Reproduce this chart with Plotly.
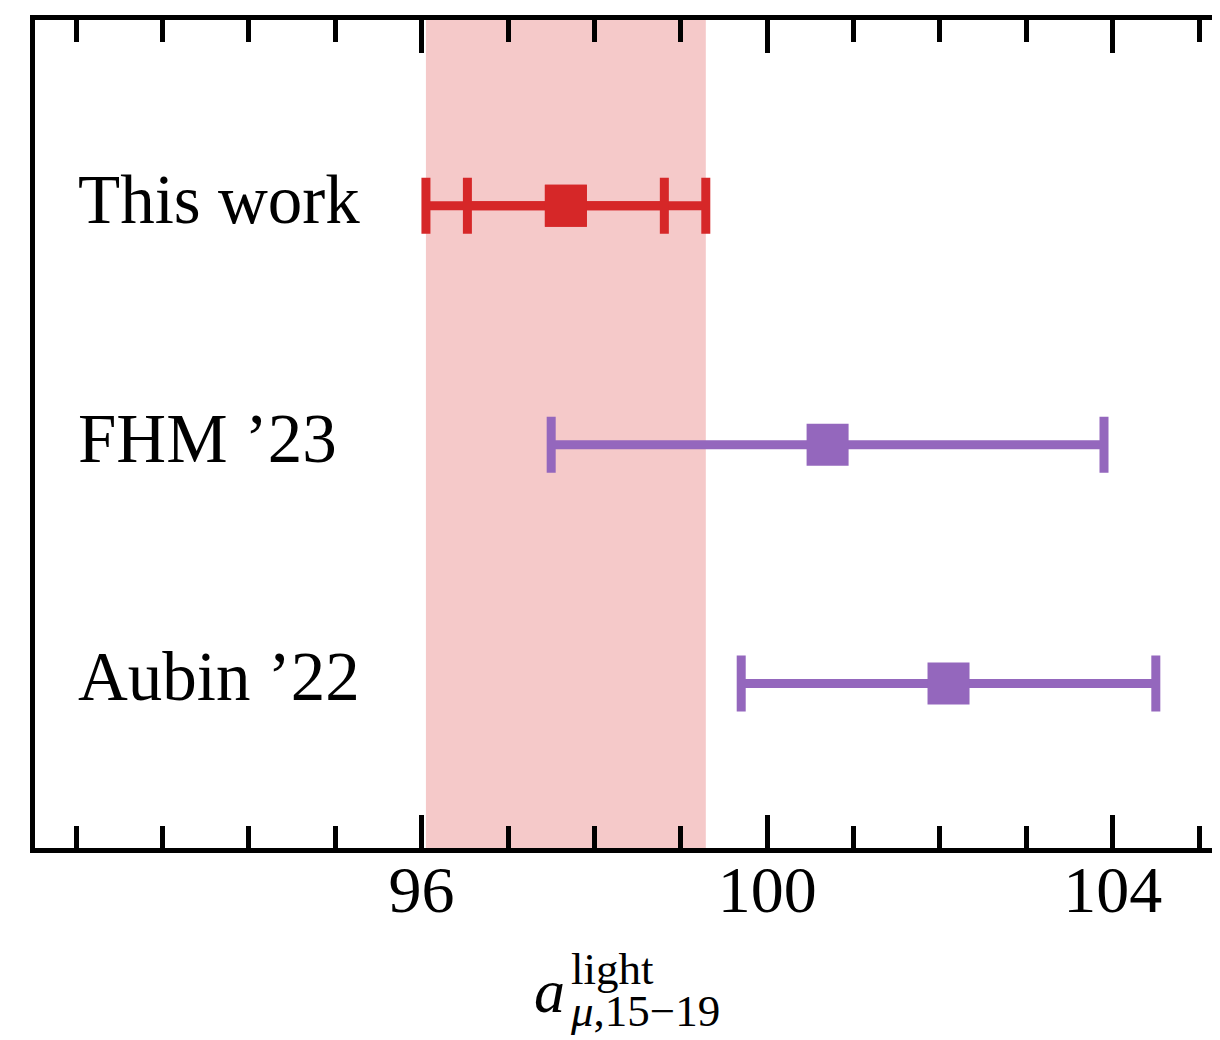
import plotly.graph_objects as go

# ---- data ----
labels = ["This work", "FHM ’23", "Aubin ’22"]
ypos = [3, 2, 1]
values = [97.67, 100.70, 102.10]
err_total = [1.62, 3.20, 2.40]
err_stat = [1.14]            # inner error for "This work"
colors = ["#d62728", "#9467bd", "#9467bd"]
band_lo, band_hi = 96.05, 99.29
xticks = [96, 100, 104]
xrange_ = [91.524, 105.243]
yrange_ = [0.311, 3.778]

# ---- layout constants ----
OFF = 8                      # default page body margin
W, H = 1220, 1040 - OFF
ML, MR, MT = 35 - OFF, OFF, 20 - OFF
MB = H - MT - 828
PW, PH = W - ML - MR, H - MT - MB
LW = 4.5
FONT = "Liberation Serif"

def px_x(px):
    return (px - OFF - ML) / PW

def px_y(py):
    return (MT + PH - (py - OFF)) / PH

fig = go.Figure()

# shaded band
fig.add_shape(type="rect", xref="x", yref="paper", x0=band_lo, x1=band_hi,
              y0=0, y1=1, fillcolor="rgba(214,39,40,0.25)", line_width=0,
              layer="below")

# outer (total) error bars
for i in range(len(labels)):
    fig.add_trace(go.Scatter(
        x=[values[i]], y=[ypos[i]], mode="markers",
        marker=dict(symbol="square", size=42, color=colors[i]),
        error_x=dict(type="data", array=[err_total[i]], color=colors[i],
                     thickness=9, width=28),
        showlegend=False, hoverinfo="skip"))

# inner (stat) error bars for This work
fig.add_trace(go.Scatter(
    x=[values[0]], y=[ypos[0]], mode="markers",
    marker=dict(symbol="square", size=42, color=colors[0]),
    error_x=dict(type="data", array=[err_stat[0]], color=colors[0],
                 thickness=9, width=28),
    showlegend=False, hoverinfo="skip"))

# row labels
for i in range(len(labels)):
    fig.add_annotation(x=92.0, y=ypos[i], xref="x", yref="y", text=labels[i],
                       showarrow=False, xanchor="left", yanchor="middle",
                       yshift=6, font=dict(family=FONT, size=69, color="black"))

# axis title  a^{light}_{mu,15-19}
fig.add_annotation(x=px_x(549), y=px_y(990.8), xref="paper", yref="paper",
                   text="<i>a</i>", showarrow=False, xanchor="center",
                   yanchor="middle", font=dict(family=FONT, size=62, color="black"))
fig.add_annotation(x=px_x(569), y=px_y(968.5), xref="paper", yref="paper",
                   text="light", showarrow=False, xanchor="left",
                   yanchor="middle", font=dict(family=FONT, size=45, color="black"))
fig.add_annotation(x=px_x(568), y=px_y(1011), xref="paper", yref="paper",
                   text="<i>μ</i>,15−19", showarrow=False, xanchor="left",
                   yanchor="middle", font=dict(family=FONT, size=45, color="black"))

fig.update_layout(
    width=W, height=H,
    margin=dict(l=ML, r=MR, t=MT, b=MB, pad=0),
    paper_bgcolor="white", plot_bgcolor="white",
    font=dict(family=FONT, color="black"),
    xaxis=dict(range=xrange_, showgrid=False, zeroline=False,
               showline=True, linecolor="black", linewidth=LW, mirror="ticks",
               ticks="inside", ticklen=33, tickwidth=LW, tickcolor="black",
               tickvals=xticks, ticktext=[str(t) for t in xticks],
               ticklabelstandoff=-20,
               tickfont=dict(family=FONT, size=66, color="black"),
               minor=dict(ticks="inside", ticklen=22, tickwidth=LW,
                          tickcolor="black", dtick=1, tick0=96, showgrid=False)),
    yaxis=dict(range=yrange_, showgrid=False, zeroline=False,
               showline=True, linecolor="black", linewidth=LW, mirror=False,
               ticks="", showticklabels=False),
)

fig.write_html("out.html")
